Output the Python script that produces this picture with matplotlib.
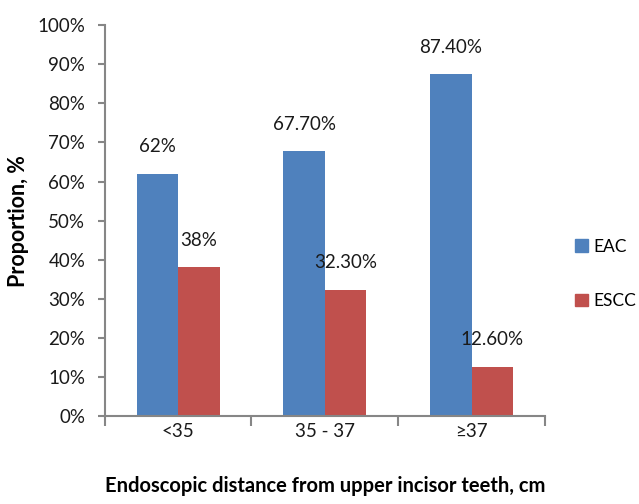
import matplotlib
matplotlib.use('Agg')
import matplotlib.pyplot as plt
from matplotlib.patches import Patch
from matplotlib.ticker import FixedLocator, PercentFormatter

plt.rcParams['font.family'] = ['Lato', 'DejaVu Sans']

# 数据
categories = ['<35', '35 - 37', '≥37']
eac = [62.0, 67.7, 87.4]
escc = [38.0, 32.3, 12.6]
eac_labels = ['62%', '67.70%', '87.40%']
escc_labels = ['38%', '32.30%', '12.60%']

blue = '#4F81BD'
red = '#C0504D'
axis_gray = '#868686'
text_col = '#1a1a1a'
fs = 13.5

fig = plt.figure(figsize=(6.39, 5.04), dpi=100)
ax = fig.add_axes([0.1638, 0.1746, 0.6892, 0.7754])

w = 0.283
centers = [i + 0.5 for i in range(len(categories))]
b1 = ax.bar([c - w / 2 for c in centers], eac, width=w, color=blue)
b2 = ax.bar([c + w / 2 for c in centers], escc, width=w, color=red)

# 数据标签
for rects, labels in ((b1, eac_labels), (b2, escc_labels)):
    for r, lab in zip(rects, labels):
        ax.annotate(lab, (r.get_x() + r.get_width() / 2, r.get_height()),
                    xytext=(0, 27), textcoords='offset pixels',
                    ha='center', va='center', fontsize=fs, color=text_col)

ax.set_xlim(0, 3)
ax.set_ylim(0, 100)
ax.set_yticks(range(0, 101, 10))
ax.yaxis.set_major_formatter(PercentFormatter(decimals=0))
ax.xaxis.set_major_locator(FixedLocator([0, 1, 2, 3]))
ax.xaxis.set_minor_locator(FixedLocator(centers))
ax.set_xticklabels([])
ax.set_xticklabels(categories, minor=True)

ax.tick_params(axis='y', direction='out', length=5, width=1.5, color=axis_gray,
               labelsize=fs, labelcolor=text_col, pad=9)
ax.tick_params(axis='x', which='major', direction='out', length=7, width=1.5,
               color=axis_gray)
ax.tick_params(axis='x', which='minor', length=0, labelsize=fs,
               labelcolor=text_col, pad=5)

for s in ('top', 'right'):
    ax.spines[s].set_visible(False)
for s in ('left', 'bottom'):
    ax.spines[s].set_color(axis_gray)
    ax.spines[s].set_linewidth(1.5)

ax.set_ylabel('Proportion, %', fontsize=15.5, fontweight='bold', labelpad=6)
ax.set_xlabel('Endoscopic distance from upper incisor teeth, cm', fontsize=14.5,
              fontweight='bold', labelpad=26)

handles = [Patch(color=blue, label='EAC'), Patch(color=red, label='ESCC')]
fig.legend(handles=handles, loc='center left', bbox_to_anchor=(0.876, 0.457),
           frameon=False, fontsize=12.5, handlelength=0.7, handleheight=0.7,
           handletextpad=0.35, labelspacing=2.2)

fig.savefig('out.png', dpi=100)
